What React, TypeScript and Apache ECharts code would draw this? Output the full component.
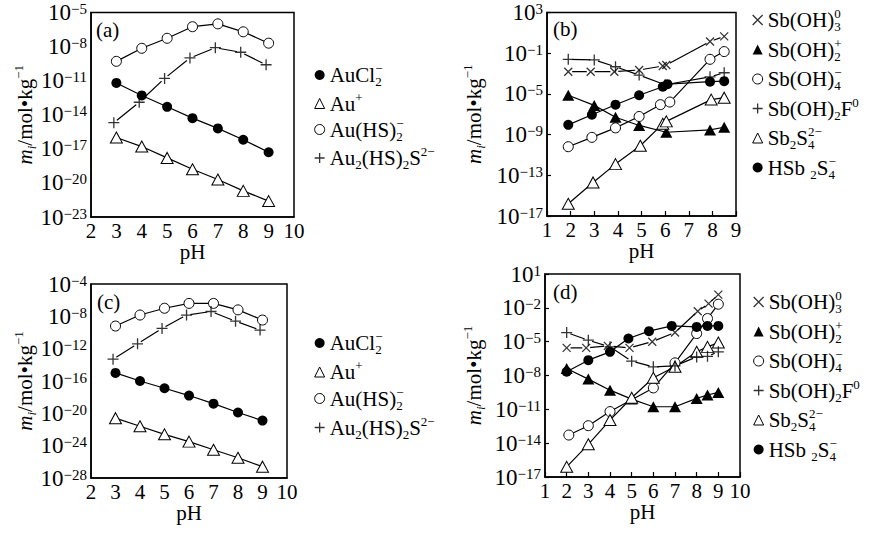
import React, { useEffect, useRef } from 'react';
import * as echarts from 'echarts';

const F = "'Liberation Serif', 'Times New Roman', serif";

// ---- values are log10(m_i / mol·kg^-1) ----
// Panel (a)
const phA = [3, 4, 5, 6, 7, 8, 9];
const phAPlus = [2.9, 3.9, 4.9, 5.9, 6.9, 7.9, 8.9];
const aAuCl2 = [-11.2, -12.3, -13.3, -14.3, -15.2, -16.2, -17.3];
const aAu = [-16.0, -16.8, -17.8, -18.8, -19.7, -20.7, -21.6];
const aAuHS2 = [-9.3, -8.15, -7.27, -6.25, -6.0, -6.7, -7.7];
const aAu2HS2S = [-14.7, -12.9, -10.8, -9.0, -8.1, -8.5, -9.6];

// Panel (c)
const phC = [3, 4, 5, 6, 7, 8, 9];
const phCPlus = [2.9, 3.9, 4.9, 5.9, 6.9, 7.9, 8.9];
const cAuCl2 = [-15.0, -16.0, -16.9, -17.8, -18.8, -19.9, -20.9];
const cAu = [-20.6, -21.6, -22.6, -23.5, -24.5, -25.5, -26.6];
const cAuHS2 = [-9.2, -7.84, -7.0, -6.4, -6.4, -7.2, -8.46];
const cAu2HS2S = [-13.3, -11.4, -9.5, -7.84, -7.4, -8.6, -9.7];

// Panel (b)
const bPhX = [1.9, 2.85, 3.85, 4.9, 5.9, 6.05, 7.9, 8.5];
const bSbOH3 = [-2.82, -2.82, -2.82, -2.65, -2.26, -2.16, 0.15, 0.65];
const bPhT = [1.9, 3.0, 3.9, 4.9, 6.05, 7.9, 8.5];
const bSbOH2 = [-5.13, -6.13, -7.29, -8.1, -8.77, -8.54, -8.28];
const bPhO = [1.9, 2.9, 3.9, 4.9, 5.8, 6.2, 7.9, 8.5];
const bSbOH4 = [-10.19, -9.27, -8.34, -7.22, -6.06, -5.8, -1.6, -0.84];
const bPhP = [1.9, 3.0, 3.9, 4.9, 6.0, 7.9, 8.5];
const bSbOH2F = [-1.6, -1.66, -2.33, -3.15, -4.1, -3.32, -2.92];
const bPhD = [1.9, 2.95, 3.9, 4.95, 5.9, 6.05, 7.95, 8.5];
const bSb2S4 = [-15.8, -13.7, -11.9, -10.1, -7.94, -7.7, -5.56, -5.37];
const bPhF = [1.9, 2.9, 3.9, 4.9, 5.9, 6.1, 7.9, 8.5];
const bHSb2S4 = [-8.04, -7.05, -6.06, -5.13, -4.3, -4.04, -3.8, -3.75];

// Panel (d)
const dPh = [2, 3, 4, 5, 6, 7, 8, 8.5, 9];
const dPhX = [2, 2.9, 3.9, 4.9, 5.95, 7, 8.05, 8.55, 9];
const dSbOH3 = [-5.55, -5.55, -5.37, -5.55, -5.0, -4.19, -2.3, -1.63, -0.83];
const dSbOH2 = [-7.38, -8.32, -9.3, -10.09, -10.77, -10.77, -10.03, -9.73, -9.5];
const dPhO = [2.1, 3, 4, 6, 7, 8, 8.5, 9];
const dSbOH4 = [-13.28, -12.45, -11.2, -9.1, -6.88, -4.28, -2.95, -1.68];
const dSbOH2F = [-4.19, -4.87, -5.46, -6.73, -7.23, -7.15, -6.35, -6.3, -5.9];
const dSb2S4 = [-16.1, -14.1, -11.95, -9.97, -8.2, -7.23, -5.9, -5.46, -5.08];
const dPhF = [2, 3, 4, 4.85, 5.8, 6.85, 8, 8.5, 9];
const dHSb2S4 = [-7.67, -6.64, -5.9, -4.72, -4.07, -3.6, -3.69, -3.6, -3.6];

// axes: tick exponents and pH ranges
const yTicksA = [-23, -20, -17, -14, -11, -8, -5];
const yTicksB = [-17, -13, -9, -5, -1, 3];
const yTicksC = [-28, -24, -20, -16, -12, -8, -4];
const yTicksD = [-17, -14, -11, -8, -5, -2, 1];
const xRangeA = [2, 10];
const xRangeB = [1, 9];
const xRangeC = [2, 10];
const xRangeD = [1, 10];

const panelTags = ['(a)', '(b)', '(c)', '(d)'];

const LABELS: Record<string, string> = {
  AuCl2: '{t|AuCl}{z|2}{s|−}',
  Au: '{t|Au}{s|+}',
  AuHS2: '{t|Au(HS)}{z|2}{s|−}',
  Au2HS2S: '{t|Au}{b|2}{t|(HS)}{b|2}{t|S}{s|2−}',
  SbOH3: '{t|Sb(OH)}{z|3}{s|0}',
  SbOH2: '{t|Sb(OH)}{z|2}{s|+}',
  SbOH4: '{t|Sb(OH)}{z|4}{s|−}',
  SbOH2F: '{t|Sb(OH)}{b|2}{t|F}{s|0}',
  Sb2S4: '{t|Sb}{b|2}{t|S}{z|4}{s|2−}',
  HSb2S4: '{t|HSb }{b|2}{t|S}{z|4}{s|−}',
};

const PLUS = 'path://M0,5L10,5M5,0L5,10';
const CROSS = 'path://M0,0L10,10M10,0L0,10';

function makeRich(big: number, small: number, lh: number, slh: number): any {
  return {
    t: { fontFamily: F, fontSize: big, lineHeight: lh, verticalAlign: 'middle', color: '#000' },
    ti: { fontFamily: F, fontSize: big, lineHeight: lh, verticalAlign: 'middle', color: '#000', fontStyle: 'italic' },
    s: { fontFamily: F, fontSize: small, lineHeight: slh, verticalAlign: 'top', color: '#000' },
    b: { fontFamily: F, fontSize: small, lineHeight: slh, verticalAlign: 'bottom', color: '#000' },
    bi: { fontFamily: F, fontSize: small, lineHeight: slh, verticalAlign: 'bottom', color: '#000', fontStyle: 'italic' },
    z: { fontFamily: F, fontSize: small, lineHeight: slh, verticalAlign: 'bottom', color: '#000', width: 0 },
  };
}
const richLegend = makeRich(21, 13, 26, 13);
const richName = makeRich(21, 13, 26, 13);
const richTick = makeRich(23, 15, 22, 9);

const MK: Record<string, any> = {
  fc: { symbol: 'circle', symbolSize: 10, itemStyle: { color: '#000', borderColor: '#000', borderWidth: 0 } },
  oc: { symbol: 'circle', symbolSize: 10, itemStyle: { color: '#fff', borderColor: '#000', borderWidth: 1 } },
  ft: { symbol: 'triangle', symbolSize: [12, 11], itemStyle: { color: '#000', borderColor: '#000', borderWidth: 0 } },
  ot: { symbol: 'triangle', symbolSize: [12, 11], itemStyle: { color: '#fff', borderColor: '#000', borderWidth: 1 } },
  pl: { symbol: PLUS, symbolSize: 11, itemStyle: { color: '#000', borderColor: '#000', borderWidth: 1.3 } },
  cr: { symbol: CROSS, symbolSize: 8, itemStyle: { color: '#000', borderColor: '#000', borderWidth: 1.3 } },
};
const ICON: Record<string, string> = { fc: 'circle', oc: 'circle', ft: 'triangle', ot: 'triangle', pl: PLUS, cr: CROSS };

function mkSeries(name: string, xs: number[], ys: number[], m: string, idx: number): any[] {
  const data = xs.map((x, i) => [x, ys[i]]);
  const gap = m === 'pl' || m === 'cr';
  if (!gap) {
    return [{
      type: 'line', name, xAxisIndex: idx, yAxisIndex: idx, data, ...MK[m], showAllSymbol: true,
      lineStyle: { color: '#000', width: 1.2 }, z: 2,
    }];
  }
  return [
    {
      type: 'line', name: name + '_line', xAxisIndex: idx, yAxisIndex: idx, data, symbol: 'circle', symbolSize: 8,
      showAllSymbol: true, itemStyle: { color: '#fff', borderWidth: 0 }, lineStyle: { color: '#000', width: 1.2 }, z: 1, silent: true,
    },
    { type: 'scatter', name, xAxisIndex: idx, yAxisIndex: idx, data, ...MK[m], z: 3 },
  ];
}

const yName = '{ti|m}{bi|i}{t|/mol•kg}{s|−1}';

function yAxis(idx: number, ticks: number[], nameGap: number, showTick: boolean) {
  return {
    type: 'value', gridIndex: idx, min: ticks[0], max: ticks[ticks.length - 1], interval: ticks[1] - ticks[0],
    axisLine: { show: true, onZero: false, lineStyle: { color: '#000', width: 1.5 } },
    axisTick: { show: showTick, inside: true, length: 4, lineStyle: { color: '#000', width: 1.2 } },
    splitLine: { show: false },
    axisLabel: {
      margin: 4, color: '#000',
      formatter: (v: number) => `{t|10}{s|${v < 0 ? '−' : ''}${Math.abs(Math.round(v))}}`,
      rich: richTick,
    },
    name: yName, nameLocation: 'middle', nameRotate: 90, nameGap, nameMoveOverlap: false,
    nameTextStyle: { rich: richName, fontFamily: F, fontSize: 21, color: '#000' },
  };
}

function xAxis(idx: number, range: number[], showTick: boolean) {
  return {
    type: 'value', gridIndex: idx, min: range[0], max: range[1], interval: 1,
    axisLine: { show: true, onZero: false, lineStyle: { color: '#000', width: 1.5 } },
    axisTick: { show: showTick, inside: true, length: 5, lineStyle: { color: '#000', width: 1.2 } },
    splitLine: { show: false },
    axisLabel: { margin: 3, color: '#000', fontFamily: F, fontSize: 21, showMinLabel: true, showMaxLabel: true },
    name: 'pH', nameLocation: 'middle', nameGap: 24, nameMoveOverlap: false,
    nameTextStyle: { fontFamily: F, fontSize: 21, color: '#000' },
  };
}

function legend(left: number, top: number, gap: number, items: [string, string][]) {
  return {
    orient: 'vertical', left, top, itemWidth: 10, itemHeight: 10, itemGap: gap, selectedMode: false,
    data: items.map(([name, m]) => ({ name, icon: ICON[m], itemStyle: { ...MK[m].itemStyle } })),
    formatter: (n: string) => LABELS[n],
    textStyle: { rich: richLegend, fontFamily: F, fontSize: 21, color: '#000' },
  };
}

export default function App() {
  const ref = useRef<HTMLDivElement>(null);
  useEffect(() => {
    if (!ref.current) return;
    const chart = echarts.init(ref.current, undefined, { renderer: 'svg' });
    const gridBase = { show: true, borderColor: '#000', borderWidth: 1.5, backgroundColor: 'transparent', containLabel: false, outerBoundsMode: 'none' };
    const series = [
      // (a)
      ...mkSeries('Au2HS2S', phAPlus, aAu2HS2S, 'pl', 0),
      ...mkSeries('AuCl2', phA, aAuCl2, 'fc', 0),
      ...mkSeries('Au', phA, aAu, 'ot', 0),
      ...mkSeries('AuHS2', phA, aAuHS2, 'oc', 0),
      // (b)
      ...mkSeries('SbOH2F', bPhP, bSbOH2F, 'pl', 1),
      ...mkSeries('SbOH3', bPhX, bSbOH3, 'cr', 1),
      ...mkSeries('SbOH2', bPhT, bSbOH2, 'ft', 1),
      ...mkSeries('SbOH4', bPhO, bSbOH4, 'oc', 1),
      ...mkSeries('Sb2S4', bPhD, bSb2S4, 'ot', 1),
      ...mkSeries('HSb2S4', bPhF, bHSb2S4, 'fc', 1),
      // (c)
      ...mkSeries('Au2HS2S', phCPlus, cAu2HS2S, 'pl', 2),
      ...mkSeries('AuCl2', phC, cAuCl2, 'fc', 2),
      ...mkSeries('Au', phC, cAu, 'ot', 2),
      ...mkSeries('AuHS2', phC, cAuHS2, 'oc', 2),
      // (d)
      ...mkSeries('SbOH2F', dPh, dSbOH2F, 'pl', 3),
      ...mkSeries('SbOH3', dPhX, dSbOH3, 'cr', 3),
      ...mkSeries('SbOH2', dPh, dSbOH2, 'ft', 3),
      ...mkSeries('SbOH4', dPhO, dSbOH4, 'oc', 3),
      ...mkSeries('Sb2S4', dPh, dSb2S4, 'ot', 3),
      ...mkSeries('HSb2S4', dPhF, dHSb2S4, 'fc', 3),
    ];
    const auItems: [string, string][] = [['AuCl2', 'fc'], ['Au', 'ot'], ['AuHS2', 'oc'], ['Au2HS2S', 'pl']];
    const sbItems: [string, string][] = [['SbOH3', 'cr'], ['SbOH2', 'ft'], ['SbOH4', 'oc'], ['SbOH2F', 'pl'], ['Sb2S4', 'ot'], ['HSb2S4', 'fc']];
    const tagPos = [[96, 19], [553, 18], [97, 291], [553, 281]];
    chart.setOption({
      animation: false,
      backgroundColor: '#fff',
      textStyle: { fontFamily: F, color: '#000' },
      grid: [
        { ...gridBase, left: 91, top: 12.5, width: 203, height: 204.5 },
        { ...gridBase, left: 547, top: 12.5, width: 189, height: 203.5 },
        { ...gridBase, left: 91, top: 284, width: 196, height: 194 },
        { ...gridBase, left: 545, top: 274, width: 195, height: 203 },
      ],
      xAxis: [xAxis(0, xRangeA, false), xAxis(1, xRangeB, true), xAxis(2, xRangeC, false), xAxis(3, xRangeD, true)],
      yAxis: [yAxis(0, yTicksA, 53, false), yAxis(1, yTicksB, 60, true), yAxis(2, yTicksC, 53, false), yAxis(3, yTicksD, 58, true)],
      legend: [
        legend(309, 57, 2.5, auItems),
        legend(747, 2, 3.5, sbItems),
        legend(309, 325, 3, auItems),
        legend(748, 284, 3.5, sbItems),
      ],
      graphic: panelTags.map((t, i) => ({
        type: 'text', left: tagPos[i][0], top: tagPos[i][1], z: 10,
        style: { text: t, fontFamily: F, fontSize: 21, fill: '#000' },
      })),
      series,
    });
    return () => chart.dispose();
  }, []);
  return <div ref={ref} style={{ position: 'fixed', left: 0, top: 0, width: 876, height: 534, background: '#fff' }} />;
}
